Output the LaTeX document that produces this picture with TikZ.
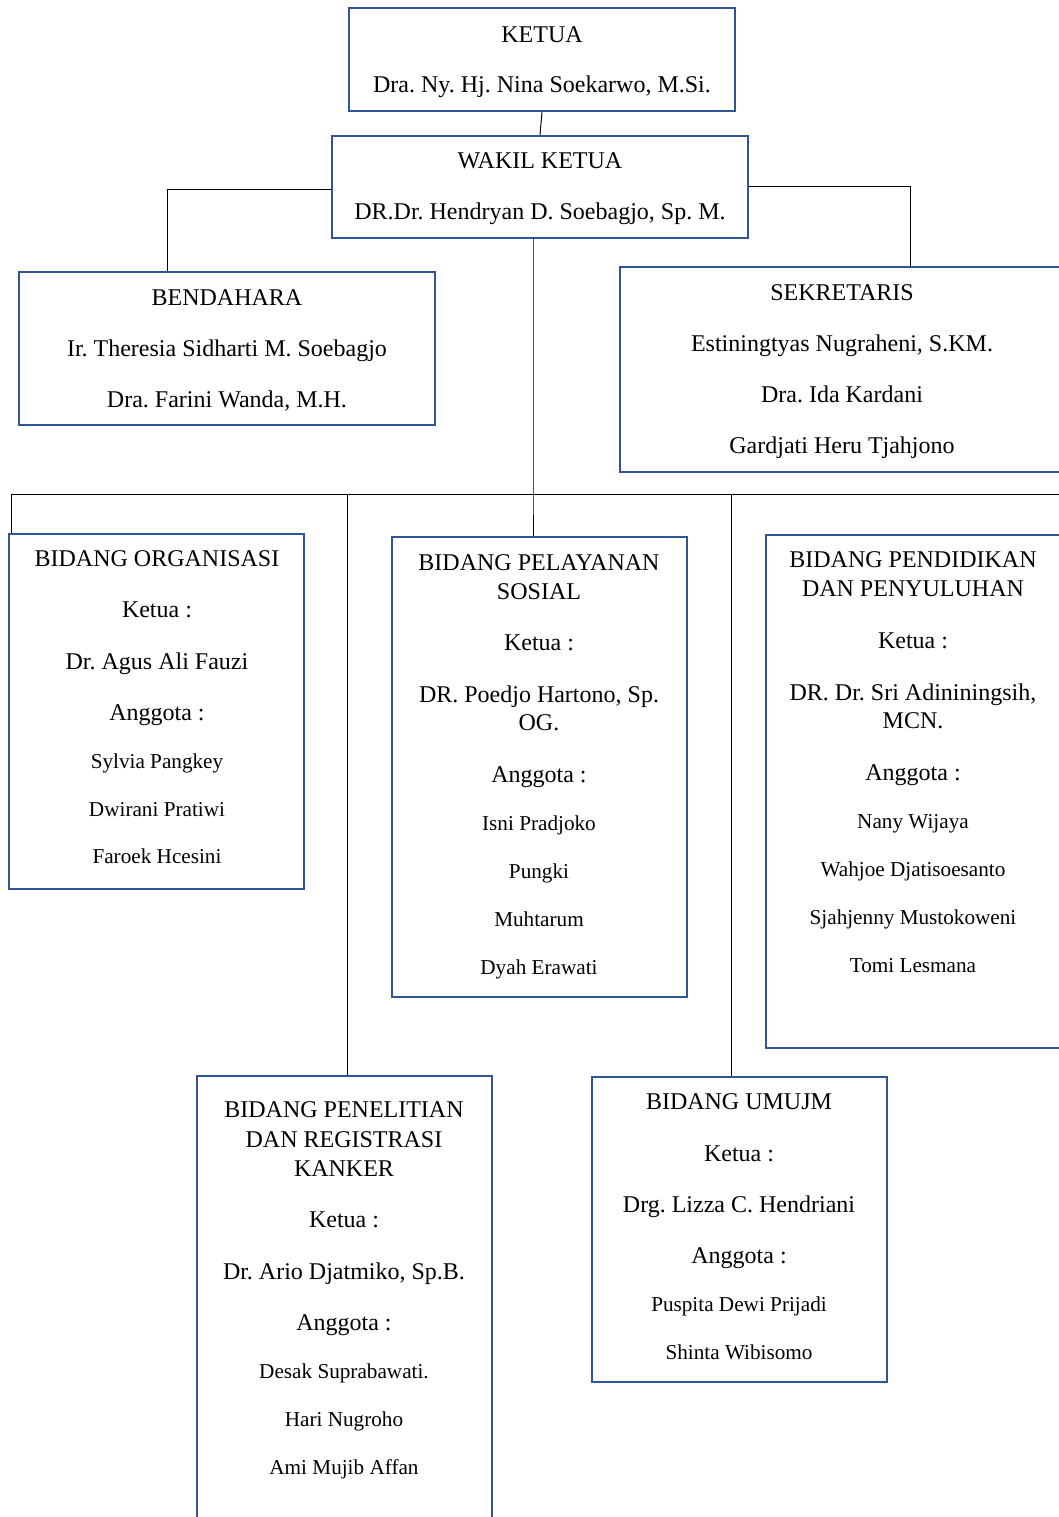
\documentclass[tikz,border=0pt]{standalone}
\usepackage{fontspec}
\setmainfont{Liberation Serif}
\usetikzlibrary{fit}
\definecolor{boxblue}{RGB}{47,85,151}
\tikzset{
  x=0.5pt, y=-0.5pt,
  orgbox/.style={draw=boxblue, line width=1.25pt, inner sep=0pt, fill=none},
  conn/.style={draw=black, line width=0.5pt},
  big/.style={font=\fontsize{12}{14}\selectfont\frenchspacing, anchor=base, inner sep=0pt},
  small/.style={font=\fontsize{10.6}{12}\selectfont\frenchspacing, anchor=base, inner sep=0pt}
}
\begin{document}
\begin{tikzpicture}
\useasboundingbox (0,0) rectangle (1059,1517);
% boxes
\node[orgbox, fit={(349,8) (735,111)}] (ketua) {};
\node[orgbox, fit={(332,136) (748,238)}] (wakil) {};
\node[orgbox, fit={(19,272) (435,425)}] (bend) {};
\node[orgbox, fit={(620,267) (1075,472)}] (sek) {};
\node[orgbox, fit={(9,534) (304,889)}] (org) {};
\node[orgbox, fit={(392,537) (687,997)}] (pel) {};
\node[orgbox, fit={(766,535) (1075,1048)}] (pend) {};
\node[orgbox, fit={(197,1076) (492,1535)}] (penel) {};
\node[orgbox, fit={(592,1077) (887,1382)}] (umum) {};
% connectors
\coordinate (bj) at (167,189);
\coordinate (sj) at (910,186);
\coordinate (wb) at (533,238);
\coordinate (busL) at (11,494);
\coordinate (busR) at (1075,494);
\coordinate (b2) at (347,494);
\coordinate (b3) at (731,494);
\draw[conn] (ketua.south) -- (wakil.north);
\draw[conn] (wakil.west |- bj) -- (bj) -- (bj |- bend.north);
\draw[conn] (wakil.east |- sj) -- (sj) -- (sj |- sek.north);
\draw[conn] (wb) -- (wb |- busL) -- (wb |- pel.north);
\draw[conn] (busL) -- (busR);
\draw[conn] (busL) -- (busL |- org.north);
\draw[conn] (b2) -- (b2 |- penel.north);
\draw[conn] (b3) -- (b3 |- umum.north);
% KETUA
\node[big] (k1) at (542,42) {KETUA};
\node[big] (k2) at (542,92) {Dra. Ny. Hj. Nina Soekarwo, M.Si.};
% WAKIL
\node[big] (w1) at (540,168) {WAKIL KETUA};
\node[big] (w2) at (540,219) {DR.Dr. Hendryan D. Soebagjo, Sp. M.};
% BENDAHARA
\node[big] (be1) at (227,305) {BENDAHARA};
\node[big] (be2) at (227,356) {Ir. Theresia Sidharti M. Soebagjo};
\node[big] (be3) at (227,407) {Dra. Farini Wanda, M.H.};
% SEKRETARIS
\node[big] (s1) at (842,300) {SEKRETARIS};
\node[big] (s2) at (842,351) {Estiningtyas Nugraheni, S.KM.};
\node[big] (s3) at (842,402) {Dra. Ida Kardani};
\node[big] (s4) at (842,453) {Gardjati Heru Tjahjono};
% ORGANISASI
\node[big] (o1) at (157,566) {BIDANG ORGANISASI};
\node[big] (o2) at (157,617) {Ketua :};
\node[big] (o3) at (157,669) {Dr. Agus Ali Fauzi};
\node[big] (o4) at (157,720) {Anggota :};
\node[small] (o5) at (157,768) {Sylvia Pangkey};
\node[small] (o6) at (157,816) {Dwirani Pratiwi};
\node[small] (o7) at (157,863) {Faroek Hcesini};
% PELAYANAN
\node[big] (p1) at (539,570) {BIDANG PELAYANAN};
\node[big] (p2) at (539,599) {SOSIAL};
\node[big] (p3) at (539,650) {Ketua :};
\node[big] (p4) at (539,702) {DR. Poedjo Hartono, Sp.};
\node[big] (p5) at (539,730) {OG.};
\node[big] (p6) at (539,782) {Anggota :};
\node[small] (p7) at (539,830) {Isni Pradjoko};
\node[small] (p8) at (539,878) {Pungki};
\node[small] (p9) at (539,926) {Muhtarum};
\node[small] (p10) at (539,974) {Dyah Erawati};
% PENDIDIKAN
\node[big] (d1) at (913,567) {BIDANG PENDIDIKAN};
\node[big] (d2) at (913,596) {DAN PENYULUHAN};
\node[big] (d3) at (913,648) {Ketua :};
\node[big] (d4) at (913,700) {DR. Dr. Sri Adininingsih,};
\node[big] (d5) at (913,728) {MCN.};
\node[big] (d6) at (913,780) {Anggota :};
\node[small] (d7) at (913,828) {Nany Wijaya};
\node[small] (d8) at (913,876) {Wahjoe Djatisoesanto};
\node[small] (d9) at (913,924) {Sjahjenny Mustokoweni};
\node[small] (d10) at (913,972) {Tomi Lesmana};
% PENELITIAN
\node[big] (r1) at (344,1117) {BIDANG PENELITIAN};
\node[big] (r2) at (344,1147) {DAN REGISTRASI};
\node[big] (r3) at (344,1176) {KANKER};
\node[big] (r4) at (344,1227) {Ketua :};
\node[big] (r5) at (344,1279) {Dr. Ario Djatmiko, Sp.B.};
\node[big] (r6) at (344,1330) {Anggota :};
\node[small] (r7) at (344,1378) {Desak Suprabawati.};
\node[small] (r8) at (344,1426) {Hari Nugroho};
\node[small] (r9) at (344,1474) {Ami Mujib Affan};
% UMUJM
\node[big] (u1) at (739,1109) {BIDANG UMUJM};
\node[big] (u2) at (739,1161) {Ketua :};
\node[big] (u3) at (739,1212) {Drg. Lizza C. Hendriani};
\node[big] (u4) at (739,1263) {Anggota :};
\node[small] (u5) at (739,1311) {Puspita Dewi Prijadi};
\node[small] (u6) at (739,1359) {Shinta Wibisomo};
\end{tikzpicture}
\end{document}
